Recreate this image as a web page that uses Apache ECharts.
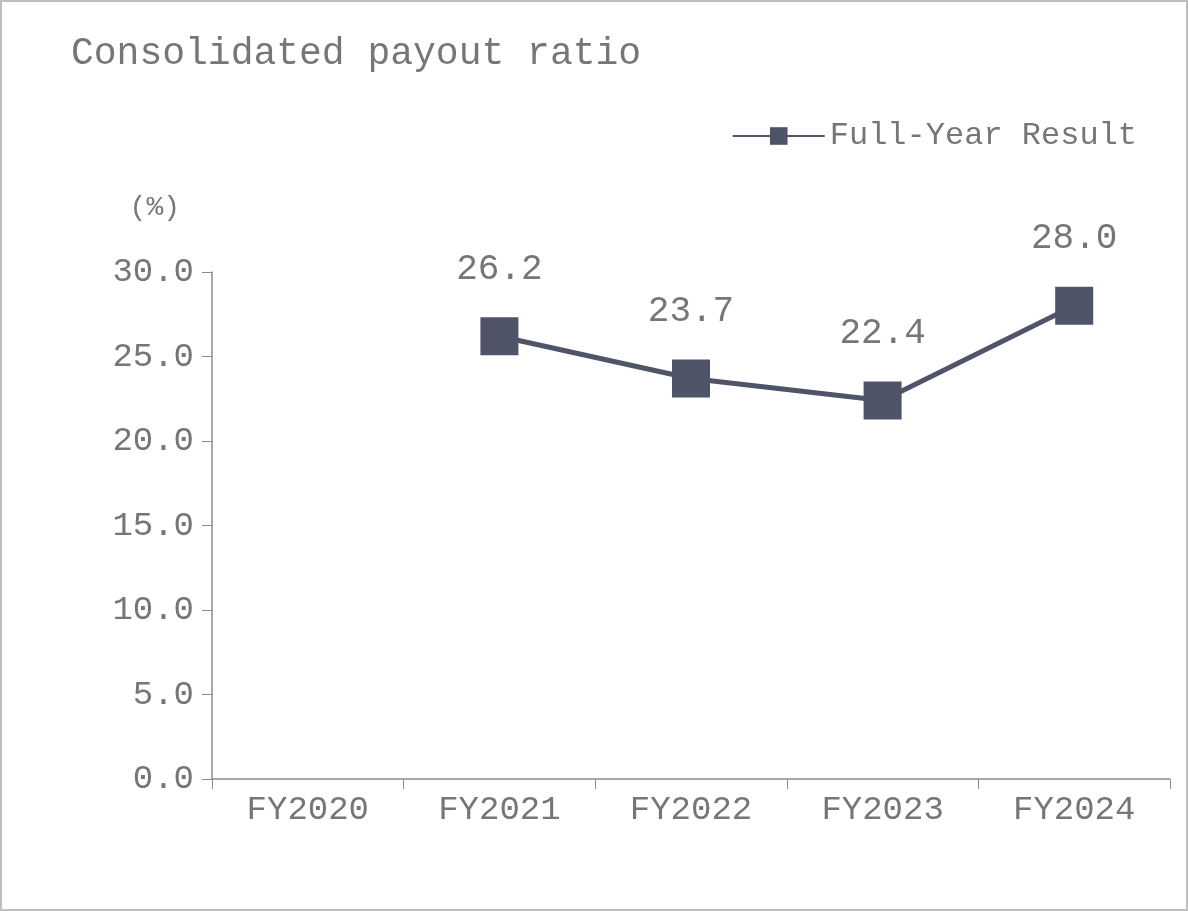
<!DOCTYPE html>
<html><head><meta charset="utf-8">
<script src="https://cdn.jsdelivr.net/npm/echarts@6/dist/echarts.min.js"></script>
<style>html,body{margin:0;padding:0;background:#fff}#c{width:1188px;height:911px;box-sizing:border-box;border:2px solid #bfbfbf}</style>
</head><body><div id="c"></div>
<script>
const categories = ['FY2020','FY2021','FY2022','FY2023','FY2024'];
const payoutRatio = [null, 26.2, 23.7, 22.4, 28.0];
const font = '"Liberation Mono", "DejaVu Sans Mono", monospace';
const grey = '#767676';
const chart = echarts.init(document.getElementById('c'));
chart.setOption({
  animation:false,
  textStyle:{fontFamily:font},
  title:{text:'Consolidated payout ratio',left:64,top:28,textStyle:{fontFamily:font,fontSize:38,fontWeight:'normal',color:grey}},
  legend:{right:44,top:113,itemWidth:92,itemHeight:22,itemGap:4,textStyle:{fontFamily:font,fontSize:32,color:grey},data:['Full-Year Result']},
  grid:{left:210,right:16,top:270,bottom:130},
  xAxis:{type:'category',data:categories,boundaryGap:true,
    axisLine:{lineStyle:{color:'#8c8c8c',width:1.5}},axisTick:{show:true,length:10,lineStyle:{color:'#8c8c8c'}},
    axisLabel:{fontSize:34,color:grey,margin:14,fontFamily:font}},
  yAxis:{type:'value',min:0,max:30,interval:5,name:'(%)',nameLocation:'end',nameGap:50,
    nameTextStyle:{fontSize:28,color:grey,align:'right',padding:[0,32,0,0]},
    axisLine:{show:true,lineStyle:{color:'#8c8c8c',width:1.5}},axisTick:{show:true,length:10,lineStyle:{color:'#8c8c8c'}},
    splitLine:{show:false},
    axisLabel:{fontSize:34,color:grey,margin:18,formatter:v=>v.toFixed(1),fontFamily:font}},
  series:[{name:'Full-Year Result',type:'line',data:payoutRatio,symbol:'rect',symbolSize:38,
    lineStyle:{color:'#4f5468',width:5},itemStyle:{color:'#4f5468'},
    label:{show:true,position:'top',distance:30,fontSize:36,color:grey,formatter:p=>p.value.toFixed(1)}}]
});
</script></body></html>
